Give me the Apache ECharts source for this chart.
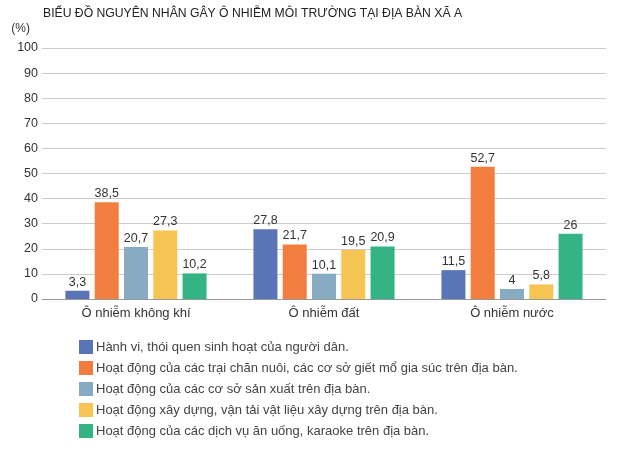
<!DOCTYPE html>
<html>
<head>
<meta charset="utf-8">
<script src="https://cdn.jsdelivr.net/npm/echarts@6/dist/echarts.min.js"></script>
<style>
  html, body { margin: 0; padding: 0; background: #fff; }
  #chart { width: 624px; height: 450px; }
</style>
</head>
<body>
<div id="chart"></div>
<script>
var categories = ['Ô nhiễm không khí', 'Ô nhiễm đất', 'Ô nhiễm nước'];
var seriesNames = [
  'Hành vi, thói quen sinh hoạt của người dân.',
  'Hoạt động của các trại chăn nuôi, các cơ sở giết mổ gia súc trên địa bàn.',
  'Hoạt động của các cơ sở sản xuất trên địa bàn.',
  'Hoạt động xây dựng, vận tải vật liệu xây dựng trên địa bàn.',
  'Hoạt động của các dịch vụ ăn uống, karaoke trên địa bàn.'
];
var habits = [3.3, 27.8, 11.5];
var livestock = [38.5, 21.7, 52.7];
var factories = [20.7, 10.1, 4];
var construction = [27.3, 19.5, 5.8];
var services = [10.2, 20.9, 26];
var colors = ['#5a74b8', '#f27d3e', '#87abc3', '#f6c453', '#34b485'];

window.onload = function() {
  var chart = echarts.init(document.getElementById('chart'));
  var values = [habits, livestock, factories, construction, services];
  var series = [];
  for (var i = 0; i < values.length; i++) {
    series.push({
      name: seriesNames[i],
      type: 'bar',
      data: values[i],
      barWidth: 24,
      barGap: '22%',
      itemStyle: { color: colors[i] },
      label: {
        show: true,
        position: 'top',
        distance: 2,
        color: '#333',
        fontSize: 12.5,
        formatter: function(p) { return String(p.value).replace('.', ','); }
      }
    });
  }
  var option = {
    backgroundColor: '#fff',
    animation: false,
    textStyle: { fontFamily: 'Liberation Sans' },
    title: {
      text: 'BIỂU ĐỒ NGUYÊN NHÂN GÂY Ô NHIỄM MÔI TRƯỜNG TẠI ĐỊA BÀN XÃ A',
      left: 38,
      top: 3,
      textStyle: { fontSize: 12.2, fontWeight: 'normal', color: '#222', fontFamily: 'Liberation Sans' }
    },
    legend: {
      orient: 'vertical',
      left: 74,
      top: 335,
      itemWidth: 14,
      itemHeight: 14,
      itemGap: 7,
      icon: 'rect',
      data: seriesNames,
      textStyle: { fontSize: 13, color: '#444', padding: [0, 0, 0, -2] }
    },
    grid: { left: 42, right: 18, top: 48, bottom: 151 },
    xAxis: {
      type: 'category',
      data: categories,
      axisTick: { show: false },
      axisLine: { lineStyle: { color: '#999' } },
      axisLabel: { color: '#333', fontSize: 13, margin: 8 }
    },
    yAxis: {
      type: 'value',
      min: 0,
      max: 100,
      interval: 10,
      name: '(%)',
      nameGap: 13,
      nameTextStyle: { color: '#333', fontSize: 12, align: 'right', padding: [0, 12, 0, 0] },
      axisLine: { show: false },
      axisTick: { show: false },
      axisLabel: { color: '#333', fontSize: 12.5, margin: 4 },
      splitLine: { lineStyle: { color: '#ccc' } }
    },
    series: series
  };
  chart.setOption(option);
};
</script>
</body>
</html>
